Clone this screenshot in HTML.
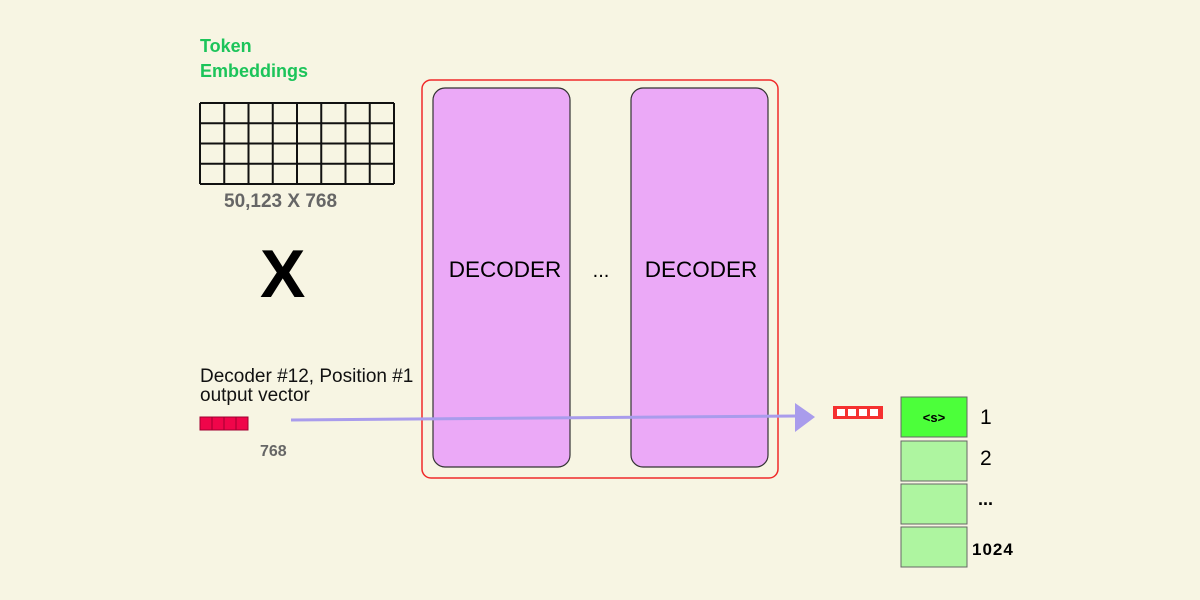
<!DOCTYPE html>
<html><head><meta charset="utf-8"><style>
html,body{margin:0;padding:0;background:#f7f5e3;}
svg{display:block;}
</style></head><body>
<svg width="1200" height="600" viewBox="0 0 1200 600" xmlns="http://www.w3.org/2000/svg">
<rect x="0" y="0" width="1200" height="600" fill="#f7f5e3"/>
<g font-family="Liberation Sans, sans-serif" font-weight="bold" font-size="18" fill="#1cc45a">
<text x="200" y="52">Token</text>
<text x="200" y="77">Embeddings</text>
</g>
<g id="grid" stroke="#111" stroke-width="2" fill="none"></g>
<text x="224" y="207" font-family="Liberation Sans, sans-serif" font-weight="bold" font-size="19" fill="#666">50,123 X 768</text>
<text x="260" y="297" font-family="Liberation Sans, sans-serif" font-weight="bold" font-size="68" fill="#000">X</text>
<rect x="422" y="80" width="356" height="398" rx="9" fill="none" stroke="#f02a2a" stroke-width="1.5"/>
<rect x="433" y="88" width="137" height="379" rx="12" fill="#eba9f7" stroke="#333" stroke-width="1.2"/>
<rect x="631" y="88" width="137" height="379" rx="12" fill="#eba9f7" stroke="#333" stroke-width="1.2"/>
<text x="505" y="277" text-anchor="middle" font-family="Liberation Sans, sans-serif" font-size="22.5" fill="#000">DECODER</text>
<text x="701" y="277" text-anchor="middle" font-family="Liberation Sans, sans-serif" font-size="22.5" fill="#000">DECODER</text>
<text x="601" y="277" text-anchor="middle" font-family="Liberation Sans, sans-serif" font-size="20" fill="#000">...</text>
<g font-family="Liberation Sans, sans-serif" font-size="19" fill="#111">
<text x="200" y="382">Decoder #12, Position #1</text>
<text x="200" y="401">output vector</text>
</g>
<g fill="#f0054a" stroke="#a00030" stroke-width="1">
<rect x="200" y="417" width="12" height="13"/><rect x="212" y="417" width="12" height="13"/><rect x="224" y="417" width="12" height="13"/><rect x="236" y="417" width="12" height="13"/>
</g>
<text x="260" y="456" font-family="Liberation Sans, sans-serif" font-weight="bold" font-size="16" fill="#666">768</text>
<line x1="291" y1="420" x2="797" y2="416" stroke="#a99cec" stroke-width="3"/>
<polygon points="795,403 815,417 795,432" fill="#a99cec"/>
<g>
<rect x="833" y="406" width="50" height="13" fill="#f53030"/>
<rect x="837" y="409" width="8" height="7" fill="#fff"/><rect x="848" y="409" width="8" height="7" fill="#fff"/><rect x="859" y="409" width="8" height="7" fill="#fff"/><rect x="870" y="409" width="8" height="7" fill="#fff"/>
</g>
<rect x="901" y="397" width="66" height="40" fill="#4cff3a" stroke="#666" stroke-width="1"/>
<text x="934" y="422" text-anchor="middle" font-family="Liberation Sans, sans-serif" font-weight="bold" font-size="13">&lt;s&gt;</text>
<rect x="901" y="441" width="66" height="40" fill="#aef5a0" stroke="#666" stroke-width="1"/>
<rect x="901" y="484" width="66" height="40" fill="#aef5a0" stroke="#666" stroke-width="1"/>
<rect x="901" y="527" width="66" height="40" fill="#aef5a0" stroke="#666" stroke-width="1"/>
<g font-family="Liberation Sans, sans-serif" fill="#000">
<text x="980" y="424" font-size="21">1</text>
<text x="980" y="465" font-size="21">2</text>
<text x="978" y="505" font-size="18" font-weight="bold">...</text>
<text x="972" y="555" font-size="17" font-weight="bold" letter-spacing="1">1024</text>
</g>
</svg>
<script>
const cols = 8, rows = 4;
const g = document.getElementById('grid');
const x0 = 200, y0 = 103, w = 194, h = 81;
const ns = 'http://www.w3.org/2000/svg';
for (let i = 0; i <= cols; i++) {
  const l = document.createElementNS(ns, 'line');
  const x = x0 + w * i / cols;
  l.setAttribute('x1', x); l.setAttribute('x2', x); l.setAttribute('y1', y0); l.setAttribute('y2', y0 + h);
  
  
  g.appendChild(l);
}
for (let j = 0; j <= rows; j++) {
  const l = document.createElementNS(ns, 'line');
  const y = y0 + h * j / rows;
  l.setAttribute('x1', x0); l.setAttribute('x2', x0 + w); l.setAttribute('y1', y); l.setAttribute('y2', y);
  
  
  g.appendChild(l);
}
</script>
</body></html>
